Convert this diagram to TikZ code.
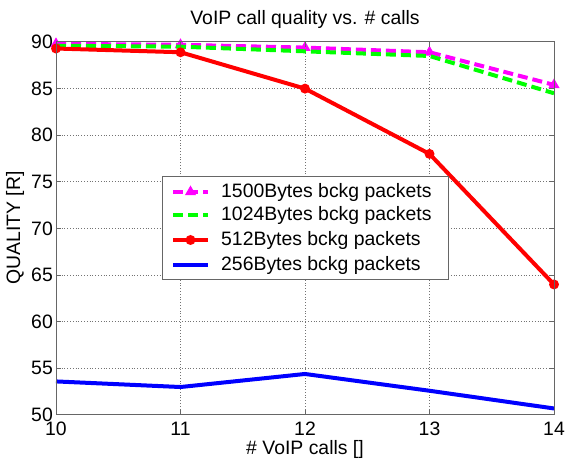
\documentclass[tikz,border=0pt]{standalone}
\usepackage{fontspec}
\setmainfont{Liberation Sans}
\usetikzlibrary{arrows.meta,positioning,shapes.geometric,calc}
\definecolor{mag}{HTML}{FF00FF}
\definecolor{grn}{HTML}{00FF00}
\definecolor{rd}{HTML}{FF0000}
\definecolor{bl}{HTML}{0000FF}

\tikzset{
  gridline/.style={black!55,dotted,line width=0.8pt},
  axisbox/.style={black!60,line width=1pt},
  dashcurve/.style={line width=4pt,dash pattern=on 10pt off 5pt},
  solidcurve/.style={line width=4pt,line join=round},
  trimark/.style={regular polygon,regular polygon sides=3,fill=mag,inner sep=0pt,minimum size=13pt},
  dotmark/.style={circle,fill=rd,inner sep=0pt,minimum size=10pt},
  legtext/.style={anchor=west,inner sep=0pt}
}

\begin{document}
\begin{tikzpicture}[x=1pt,y=1pt,font=\fontsize{19.4}{22}\selectfont]
  \useasboundingbox (0,0) rectangle (565,463);

  % data area: calls 10..14, quality 50..90
  \begin{scope}[x=124.5pt,y=9.325pt,shift={(-1189pt,-418.25pt)}]
    \foreach \x in {11,...,13} \draw[gridline] (\x,50) -- (\x,90);
    \foreach \q in {55,60,...,85} \draw[gridline] (10,\q) -- (14,\q);

    % tick labels
    \foreach \x in {10,...,14}
      \node[anchor=north,inner sep=0pt] (xt\x) at ([yshift=-7pt]\x,50) {\x};
    \foreach \q in {50,55,...,90}
      \node[anchor=east,inner sep=0pt] (yt\q) at ([xshift=-3pt]10,\q) {\q};

    % curves
    \draw[mag,dashcurve] plot coordinates {(10,89.8) (11,89.7) (12,89.4) (13,88.9) (14,85.4)};
    \foreach \x/\q in {10/89.8,11/89.7,12/89.4,13/88.9,14/85.4}
      \node[trimark] (m\x) at (\x,\q) {};
    \draw[grn,dashcurve] plot coordinates {(10,89.6) (11,89.5) (12,89.0) (13,88.5) (14,84.5)};
    \draw[rd,solidcurve] plot coordinates {(10,89.3) (11,88.9) (12,85.0) (13,78.0) (14,64.0)};
    \foreach \x/\q in {10/89.3,11/88.9,12/85.0,13/78.0,14/64.0}
      \node[dotmark] (r\x) at (\x,\q) {};
    \draw[bl,solidcurve] plot coordinates {(10,53.6) (11,53.0) (12,54.4) (13,52.6) (14,50.7)};

    % box and ticks
    \draw[axisbox] (10,50) rectangle (14,90);
    \foreach \x in {11,...,13} {
      \draw[axisbox] (\x,50) -- ([yshift=5pt]\x,50);
      \draw[axisbox] (\x,90) -- ([yshift=-5pt]\x,90);
    }
    \foreach \q in {55,60,...,85} {
      \draw[axisbox] (10,\q) -- ([xshift=5pt]10,\q);
      \draw[axisbox] (14,\q) -- ([xshift=-5pt]14,\q);
    }
  \end{scope}

  % titles
  \node (title) at (305,444) {VoIP call quality vs. \# calls};
  \node[inner sep=0pt] (xlab) at (305,14) {\# VoIP calls []};
  \node[rotate=90] (ylab) at (15,235) {QUALITY [R]};

  % legend
  \node[draw=black!60,line width=1pt,fill=white,minimum width=286pt,minimum height=103pt,inner sep=0pt] (legend) at (305,234.5) {};
  \node[legtext] (l1500) at (221,271) {1500Bytes bckg packets};
  \node[legtext] (l1024) at (221,248) {1024Bytes bckg packets};
  \node[legtext] (l512) at (221,223) {512Bytes bckg packets};
  \node[legtext] (l256) at (221,198) {256Bytes bckg packets};

  \draw[mag,dashcurve] ($(l1500.west)+(-48,0)$) -- ($(l1500.west)+(-13,0)$);
  \node[trimark] (lm) at ($(l1500.west)+(-30.5,0)$) {};
  \draw[grn,dashcurve] ($(l1024.west)+(-48,0)$) -- ($(l1024.west)+(-13,0)$);
  \draw[rd,solidcurve] ($(l512.west)+(-48,0)$) -- ($(l512.west)+(-13,0)$);
  \node[dotmark] (lr) at ($(l512.west)+(-30.5,0)$) {};
  \draw[bl,solidcurve] ($(l256.west)+(-48,0)$) -- ($(l256.west)+(-13,0)$);
\end{tikzpicture}
\end{document}
